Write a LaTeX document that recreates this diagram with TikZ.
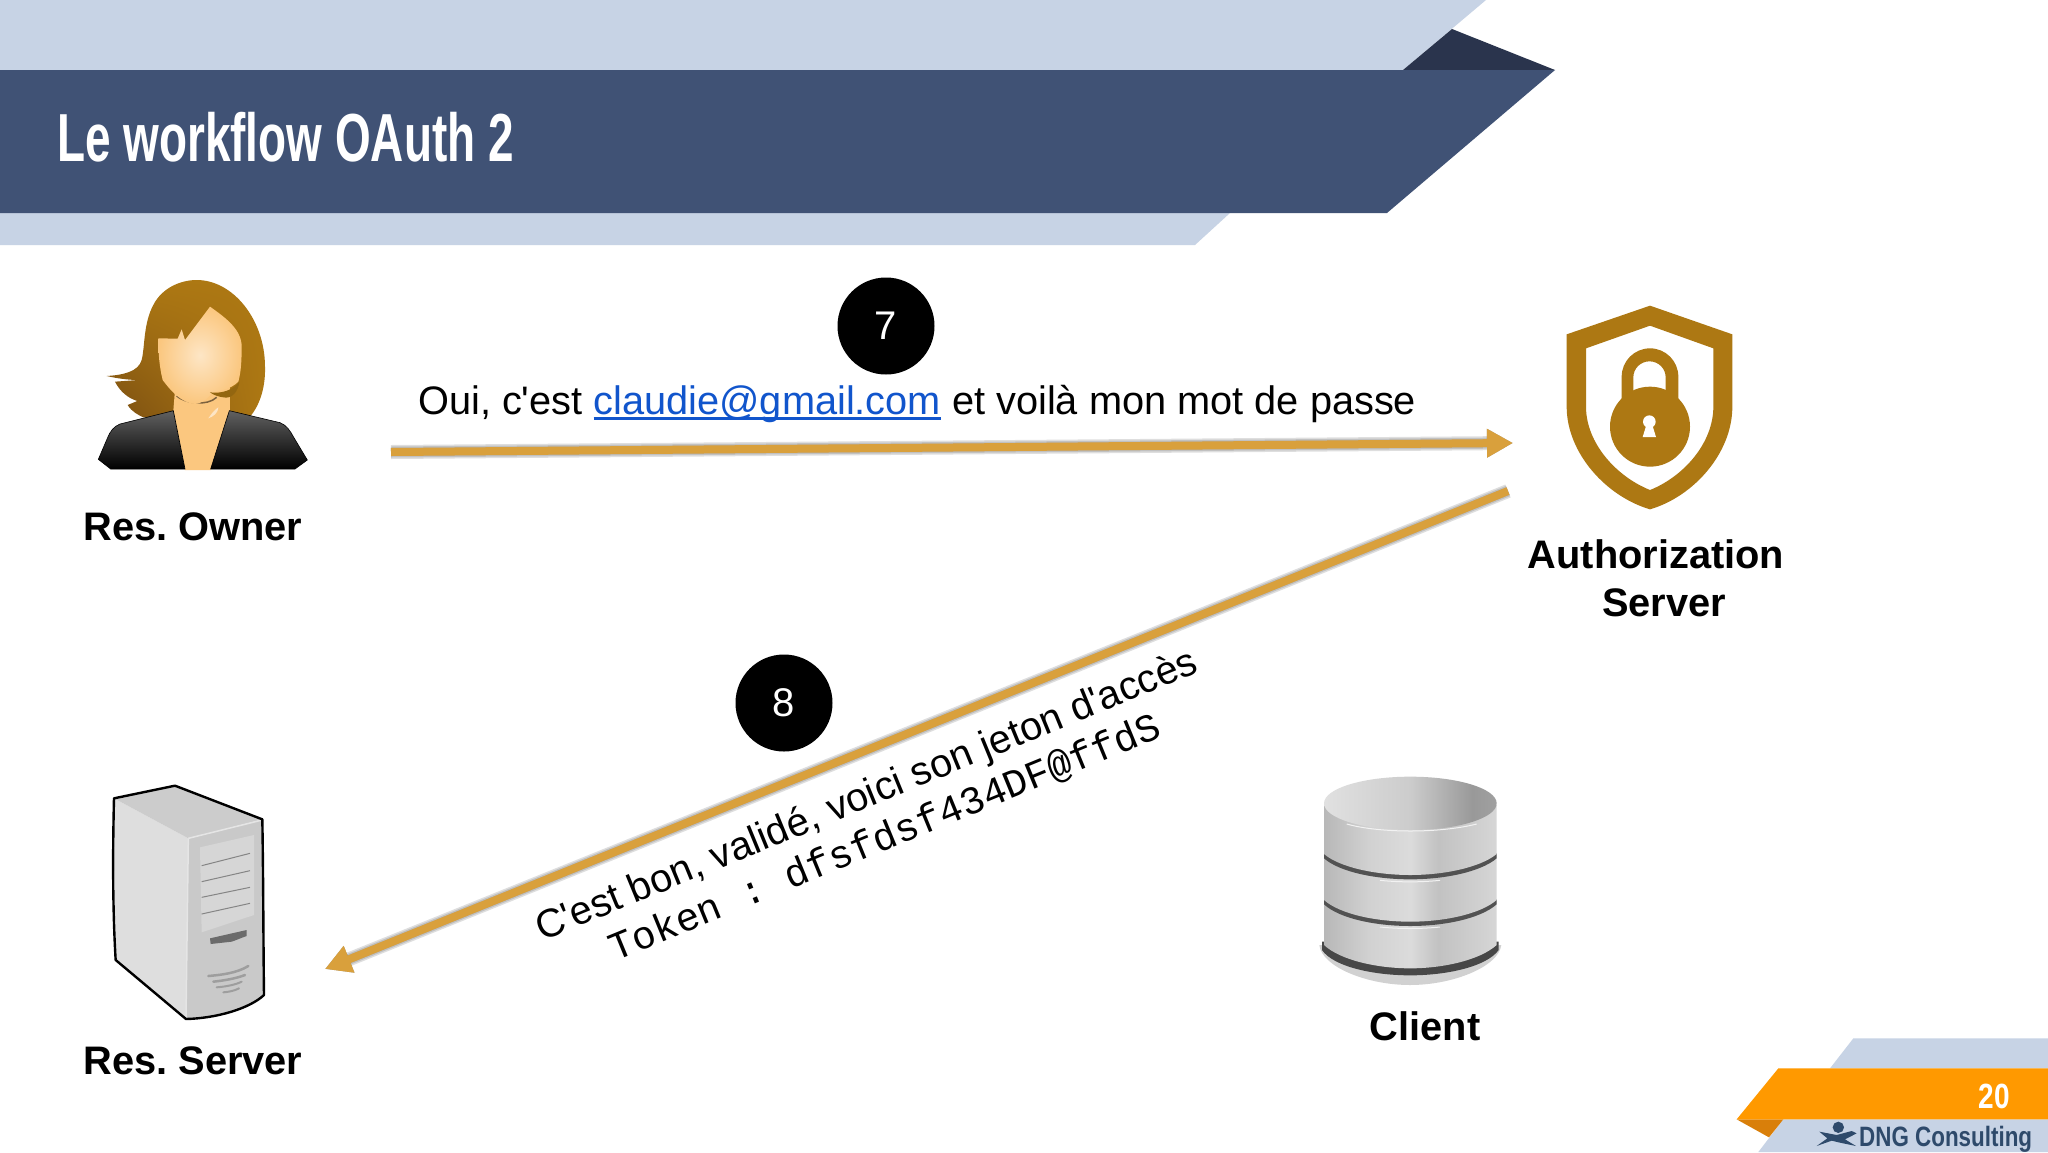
\documentclass[tikz,border=0pt]{standalone}
\usepackage{fontspec}
\usetikzlibrary{arrows.meta,shadings}
\newfontfamily\arialf{Liberation Sans}
\newfontfamily\monof{Liberation Mono}
\newfontfamily\titlef[FakeStretch=0.675]{Liberation Sans}
\newfontfamily\footf[FakeStretch=0.8]{Liberation Sans}
\definecolor{lightband}{HTML}{C7D3E5}
\definecolor{darkband}{HTML}{405275}
\definecolor{darktri}{HTML}{2A344D}
\definecolor{arrowgold}{HTML}{D9A03C}
\definecolor{iconbrown}{HTML}{AD7813}
\definecolor{hairdark}{HTML}{7A4E12}
\definecolor{footorange}{HTML}{FF9900}
\definecolor{footdark}{HTML}{D97F0A}
\definecolor{footblue}{HTML}{2E4A6B}
\definecolor{linkblue}{HTML}{1155CC}
\definecolor{skin}{HTML}{FBC77F}
\newlength\ullen
\newcommand\linkul[1]{\settowidth{\ullen}{#1}\rlap{#1}\rule[-5.5pt]{\ullen}{2.6pt}}
\pgfdeclarehorizontalshading{dbband}{100bp}{color(0bp)=(white!70!black); color(25bp)=(white!72!black); color(38bp)=(white!82!black); color(50bp)=(white!86!black); color(58bp)=(white!76!black); color(75bp)=(white!84!black); color(82bp)=(white!84!black); color(100bp)=(white!70!black)}
\pgfdeclarehorizontalshading{dbtop}{100bp}{color(0bp)=(white!90!black); color(25bp)=(white!88!black); color(50bp)=(white!80!black); color(68bp)=(white!60!black); color(78bp)=(white!64!black); color(100bp)=(white!90!black)}
\tikzset{
  lbl/.style={font=\arialf\bfseries\fontsize{39.8}{46}\selectfont,text=black,inner sep=0pt,anchor=base},
  msg/.style={font=\arialf\fontsize{39.75}{46}\selectfont,text=black,inner sep=0pt},
  badge/.style={circle,fill=black,minimum size=97pt,inner sep=0pt,text=white,font=\arialf\fontsize{40}{46}\selectfont},
  flow/.style={draw=arrowgold,line width=8pt,-{Triangle[length=26pt,width=27pt,fill=arrowgold]}},
  flowsh/.style={draw=black,opacity=.13,line width=#1,-{Triangle[length=26pt,width=27pt,fill=black]}},
}
\begin{document}
\frenchspacing
\begin{tikzpicture}[x=1pt,y=-1pt]
\useasboundingbox (0,0) rectangle (2048,1152);
\fill[white] (0,0) rectangle (2048,1152);
% header
\fill[lightband] (0,0) -- (1486,0) -- (1403,70) -- (0,70) -- cycle;
\fill[lightband] (0,213) -- (1230,213) -- (1195,245) -- (0,245) -- cycle;
\fill[darktri] (1403,70) -- (1452,29) -- (1555,70) -- cycle;
\fill[darkband] (0,70) -- (1555,70) -- (1387,213) -- (0,213) -- cycle;
\node[font=\titlef\bfseries\fontsize{68}{74}\selectfont,text=white,inner sep=0pt,anchor=base west] (title) at (57,161) {Le workflow OAuth 2};

% resource owner
\begin{scope}[shift={(0,240)},scale=0.33333]
\shade[lower left=hairdark,upper left=iconbrown,upper right=iconbrown,lower right=iconbrown]
  (590,120) .. controls (700,120) and (795,240) .. (795,380)
  .. controls (797,440) and (780,495) .. (750,530) -- (430,532)
  .. controls (415,525) and (395,515) .. (383,495) -- (412,483)
  .. controls (385,475) and (360,455) .. (345,425) -- (415,420)
  .. controls (385,420) and (350,415) .. (320,408)
  .. controls (370,405) and (415,395) .. (425,360)
  .. controls (435,320) and (430,250) .. (460,195)
  .. controls (485,145) and (540,120) .. (590,120) -- cycle;
\fill[skin] (525,450) -- (690,440) -- (690,512) -- (632,690) -- (555,690) -- (520,512) -- cycle;
\fill[white,opacity=.55] (625,535) .. controls (635,520) and (645,508) .. (655,502) .. controls (655,518) and (640,530) .. (625,535) -- cycle;
\draw[black!30!skin!70!black,line width=1.5pt] (530,468) .. controls (555,490) and (620,500) .. (650,472);
\shade[inner color=white!55!skin,outer color=skin]
  (630,200) .. controls (680,235) and (725,270) .. (725,320)
  .. controls (725,370) and (722,400) .. (715,425)
  .. controls (690,450) and (660,450) .. (635,460)
  .. controls (620,480) and (600,492) .. (585,492)
  .. controls (545,490) and (510,450) .. (488,420)
  .. controls (478,380) and (475,340) .. (475,295)
  -- (533,296) -- (545,268) -- (555,300) -- cycle;
\fill[black!15!iconbrown] (630,457) .. controls (665,462) and (700,450) .. (718,425) .. controls (715,455) and (695,478) .. (670,472) .. controls (655,470) and (640,465) .. (630,457) -- cycle;
\shade[top color=black!62,bottom color=black,draw=black,line width=.6pt]
  (520,512) -- (360,552) .. controls (340,560) and (330,575) .. (322,595) -- (295,658) -- (332,687) -- (555,687) -- cycle;
\shade[top color=black!62,bottom color=black,draw=black,line width=.6pt]
  (688,512) -- (840,548) .. controls (860,555) and (872,575) .. (880,590) -- (922,660) -- (885,687) -- (632,687) -- cycle;
\end{scope}
\node[lbl] (owner) at (193,540) {Res. Owner};

% authorization server shield
\begin{scope}[shift={(1480,280)},scale=0.33333]
\fill[iconbrown,even odd rule]
  (510,77) -- (757,163) -- (757,380) .. controls (757,520) and (640,650) .. (510,688)
  .. controls (380,650) and (260,520) .. (260,380) -- (260,163) -- cycle
  (510,137) -- (318,205) -- (318,380) .. controls (318,490) and (410,590) .. (510,630)
  .. controls (610,590) and (700,490) .. (700,380) -- (700,205) -- cycle;
\fill[iconbrown,even odd rule]
  (425,360) -- (425,290) arc[start angle=180,end angle=360,radius=85] -- (595,360) -- cycle
  (460,340) -- (460,292) arc[start angle=180,end angle=360,x radius=48.5,y radius=48] -- (557,340) -- cycle;
\fill[iconbrown] (510,440) circle[radius=120];
\fill[white] (508,425) circle[radius=19];
\fill[white] (500,432) -- (516,432) -- (528,471) -- (488,471) -- cycle;
\end{scope}
\node[lbl] (authA) at (1656,568) {Authorization};
\node[lbl] (authB) at (1664,616) {Server};

% resource server
\begin{scope}[shift={(60,760)},scale=0.33333]
\fill[white!87!black] (162,115) -- (385,235) -- (378,777) -- (167,600) -- cycle;
\fill[white!80!black] (162,115) -- (345,77) -- (607,178) -- (385,235) -- cycle;
\fill[white!79!black] (385,235) -- (607,178) -- (612,705) .. controls (570,745) and (470,775) .. (378,777) -- cycle;
\draw[white!90!black,line width=1.5pt] (385,235) -- (607,180);
\draw[white!90!black,line width=1.5pt] (385,235) -- (378,775);
\fill[white!84!black] (420,262) -- (582,225) -- (582,465) -- (425,517) -- cycle;
\foreach \ya/\yb in {317/280,365/332,412/382,462/430}
  \draw[white!52!black,line width=1pt] (425,\ya) -- (570,\yb);
\fill[white!42!black] (450,535) -- (560,510) -- (560,528) .. controls (540,535) and (530,540) .. (515,545) -- (452,552) -- cycle;
\draw[white!62!black,line width=2.5pt,line cap=round] (445,648) .. controls (480,645) and (530,640) .. (565,618);
\draw[white!62!black,line width=2.5pt,line cap=round] (460,665) .. controls (490,662) and (530,655) .. (555,645);
\draw[white!62!black,line width=2pt,line cap=round] (470,682) .. controls (495,680) and (525,675) .. (545,665);
\draw[white!62!black,line width=2pt,line cap=round] (490,697) .. controls (505,696) and (525,692) .. (537,685);
\draw[black,line width=2.4pt,line join=round]
  (162,115) -- (345,77) -- (607,178) .. controls (610,350) and (610,550) .. (612,705)
  .. controls (570,745) and (470,775) .. (378,777) -- (167,600)
  .. controls (158,450) and (158,280) .. (162,115) -- cycle;
\end{scope}
\node[lbl] (rserver) at (193,1074) {Res. Server};

% client database
\begin{scope}[shift={(1280,750)},scale=0.33333]
\fill[black!40,opacity=.45] (118,585) -- (664,585) .. controls (655,650) and (520,705) .. (390,705) .. controls (260,705) and (125,650) .. (118,585) -- cycle;
\fill[black!72] (126,575) -- (656,575) -- (656,600) .. controls (620,650) and (500,676) .. (391,676) .. controls (280,676) and (160,650) .. (126,600) -- cycle;
\shade[shading=dbband] (132,450) -- (650,450) -- (650,585) .. controls (600,630) and (490,655) .. (391,655) .. controls (290,655) and (180,630) .. (132,585) -- cycle;
\fill[black!68] (132,448) -- (650,448) -- (650,463) .. controls (600,507) and (490,528) .. (391,528) .. controls (290,528) and (180,507) .. (132,463) -- cycle;
\shade[shading=dbband] (132,310) -- (650,310) -- (650,450) .. controls (600,493) and (490,515) .. (391,515) .. controls (290,515) and (180,493) .. (132,450) -- cycle;
\fill[black!68] (132,310) -- (650,310) -- (650,325) .. controls (600,367) and (490,388) .. (391,388) .. controls (290,388) and (180,367) .. (132,325) -- cycle;
\shade[shading=dbband] (132,165) -- (650,165) -- (650,312) .. controls (600,353) and (490,375) .. (391,375) .. controls (290,375) and (180,353) .. (132,312) -- cycle;
\shade[shading=dbtop] (391,160) ellipse[x radius=259,y radius=80];
\draw[white!95!black,line width=1pt] (200,222) .. controls (300,250) and (480,250) .. (590,222);
\draw[white!95!black,line width=1pt] (300,391) .. controls (360,397) and (420,397) .. (480,391);
\draw[white!95!black,line width=1pt] (300,531) .. controls (360,537) and (420,537) .. (480,531);
\end{scope}
\node[lbl] (client) at (1425,1040) {Client};

% step 7
\node[badge] (seven) at (886,326) {7};
\node[msg,anchor=base west] (msgseven) at (418,414) {Oui, c'est {\color{linkblue}\linkul{claudie@gmail.com}} et voilà mon mot de passe};
\coordinate (fromowner) at (391,452);
\coordinate (toauth) at (1513,443);
\foreach \w in {14pt,11pt,8pt}
  \draw[flowsh=\w,shift={(3,7)}] (fromowner) -- (toauth);
\draw[flow] (fromowner) -- (toauth);

% step 8
\node[badge] (eight) at (784,703) {8};
\coordinate (fromauth) at (1508,491);
\coordinate (toserver) at (325,969);
\foreach \w in {14pt,11pt,8pt}
  \draw[flowsh=\w,shift={(3,7)}] (fromauth) -- (toserver);
\draw[flow] (fromauth) -- (toserver);
\node[msg,rotate=22.3] (msgeight) at (867,797) {C'est bon, validé, voici son jeton d'accès};
\node[inner sep=0pt,rotate=22.3,font=\monof\fontsize{39.5}{46}\selectfont] (token) at (885,838) {Token : dfsfdsf434DF@ffdS};

% footer
\begin{scope}[shift={(1720,1020)},scale=0.33333]
\fill[lightband] (400,55) -- (984,55) -- (984,145) -- (330,145) -- cycle;
\fill[lightband] (190,298) -- (984,298) -- (984,396) -- (115,396) -- cycle;
\fill[footdark] (50,298) -- (190,298) -- (147,352) -- cycle;
\fill[footorange] (175,145) -- (984,145) -- (984,298) -- (50,298) -- cycle;
\fill[footblue] (355,322) circle[radius=17];
\fill[footblue] (298,335) -- (350,345) -- (395,333) -- (410,340) -- (375,358) -- (408,378) -- (360,368) -- (335,362) -- (290,378) -- (322,355) -- cycle;
\end{scope}
\node[font=\footf\bfseries\fontsize{35}{40}\selectfont,text=white,inner sep=0pt,anchor=base] (pagenum) at (1994,1108) {20};
\node[font=\footf\bfseries\fontsize{28}{34}\selectfont,text=footblue,inner sep=0pt,anchor=base west] (brand) at (1859,1146) {DNG Consulting};
\end{tikzpicture}
\end{document}
